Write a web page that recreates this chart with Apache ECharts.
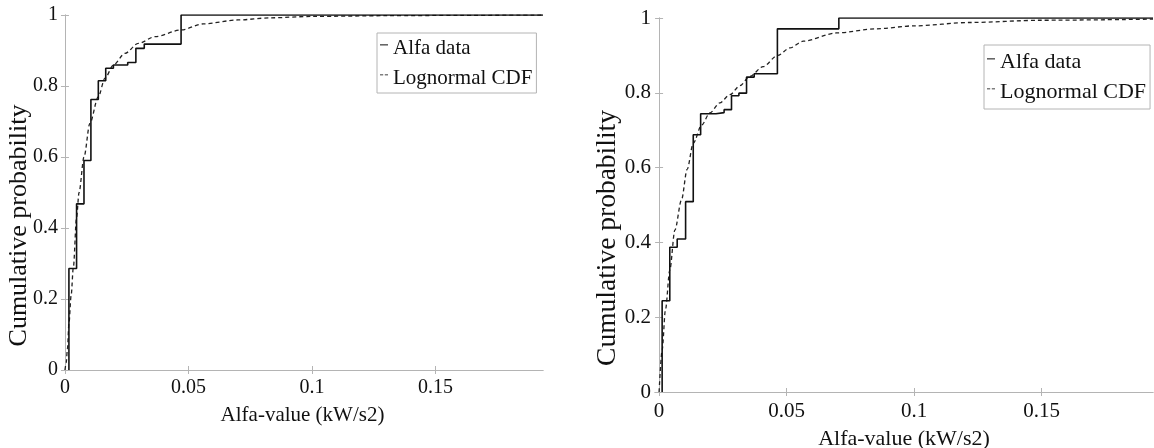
<!DOCTYPE html>
<html>
<head>
<meta charset="utf-8">
<script src="https://cdn.jsdelivr.net/npm/echarts@6/dist/echarts.min.js"></script>
<style>
html,body{margin:0;padding:0;background:#fff;}
#chart{width:1154px;height:448px;}
</style>
</head>
<body>
<div id="chart"></div>
<script>
// ---- data ----
const xTicks = [0, 0.05, 0.1, 0.15];
const yTicks = [0, 0.2, 0.4, 0.6, 0.8, 1];

// Left panel: empirical CDF jumps
const leftJumpX = [0.0016, 0.0047, 0.0077, 0.0105, 0.0135, 0.0165, 0.0196, 0.0254, 0.0287, 0.0321, 0.0470];
const leftJumpP = [0.286, 0.468, 0.590, 0.762, 0.815, 0.850, 0.859, 0.866, 0.906, 0.918, 1.0];
// Left panel: fitted lognormal CDF (read points)
const leftCdfX = [0, 0.0005, 0.001, 0.0016, 0.0025, 0.0034, 0.0047, 0.0057, 0.0077, 0.0101, 0.0135, 0.0162, 0.0196, 0.0243, 0.0297, 0.0365, 0.047, 0.056, 0.07, 0.083, 0.1, 0.13, 0.16, 0.1935];
const leftCdfP = [0, 0.02, 0.06, 0.13, 0.21, 0.29, 0.43, 0.50, 0.60, 0.695, 0.77, 0.822, 0.859, 0.892, 0.92, 0.939, 0.958, 0.975, 0.986, 0.992, 0.996, 0.998, 0.999, 1.0];

// Right panel: empirical CDF jumps
const rightJumpX = [0.0012, 0.0042, 0.0071, 0.0104, 0.0134, 0.0163, 0.0223, 0.0255, 0.0284, 0.0313, 0.0343, 0.0373, 0.0464, 0.0705];
const rightJumpP = [0.244, 0.387, 0.409, 0.509, 0.688, 0.744, 0.747, 0.755, 0.792, 0.799, 0.842, 0.851, 0.971, 1.0];
// Right panel: fitted lognormal CDF (read points)
const rightCdfX = [0, 0.0012, 0.0025, 0.0042, 0.0062, 0.0088, 0.011, 0.0134, 0.0167, 0.0199, 0.0238, 0.0278, 0.0317, 0.0356, 0.0408, 0.0465, 0.0513, 0.0565, 0.0696, 0.085, 0.1, 0.122, 0.15, 0.1937];
const rightCdfP = [0, 0.112, 0.22, 0.326, 0.433, 0.514, 0.595, 0.665, 0.714, 0.746, 0.773, 0.795, 0.819, 0.844, 0.87, 0.9, 0.92, 0.938, 0.96, 0.971, 0.979, 0.988, 0.994, 0.997];

const leftXRange = [-0.0012, 0.1935];
const rightXRange = [-0.0016, 0.1937];

const seriesNames = ['Alfa data', 'Lognormal CDF'];
const xName = 'Alfa-value (kW/s2)';
const yName = 'Cumulative probability';

// ---- helpers ----
function stepData(xs, ps, xmax) {
  const d = [[xs[0], 0]];
  for (let i = 0; i < xs.length; i++) d.push([xs[i], ps[i]]);
  d.push([xmax, ps[ps.length - 1]]);
  return d;
}
function pairs(xs, ys) { return xs.map((x, i) => [x, ys[i]]); }

const FONT = 'Liberation Serif';
const AXIS_COLOR = '#b4b4b4';

function xAxes(gridIndex, range, fs, labelMargin, nameGap) {
  return [
    {
      type: 'value', gridIndex: gridIndex, min: range[0], max: range[1], position: 'bottom',
      name: xName, nameLocation: 'middle', nameGap: nameGap, nameMoveOverlap: false,
      nameTextStyle: { fontFamily: FONT, fontSize: fs, color: '#111' },
      axisLine: { show: true, lineStyle: { color: AXIS_COLOR, width: 1 } },
      axisTick: { show: true, inside: true, length: 4, customValues: xTicks, lineStyle: { color: AXIS_COLOR } },
      axisLabel: { show: true, customValues: xTicks, margin: labelMargin, fontFamily: FONT, fontSize: fs - 1, color: '#111',
        formatter: v => String(v) },
      splitLine: { show: false }
    },
    {
      type: 'value', gridIndex: gridIndex, min: range[0], max: range[1], position: 'top',
      axisLine: { show: true, lineStyle: { color: AXIS_COLOR, width: 1 } },
      axisTick: { show: true, inside: true, length: 4, customValues: xTicks, lineStyle: { color: AXIS_COLOR } },
      axisLabel: { show: false },
      splitLine: { show: false }
    }
  ];
}
function yAxes(gridIndex, fs, nameFs, gap, shift) {
  return [
    {
      type: 'value', gridIndex: gridIndex, min: 0, max: 1, interval: 0.2, position: 'left',
      name: yName, nameLocation: 'middle', nameGap: gap, nameRotate: 90, nameMoveOverlap: false,
      nameTextStyle: { fontFamily: FONT, fontSize: nameFs, color: '#111', padding: [0, shift, 0, 0] },
      axisLine: { show: true, lineStyle: { color: AXIS_COLOR, width: 1 } },
      axisTick: { show: true, inside: true, length: 4, lineStyle: { color: AXIS_COLOR } },
      axisLabel: { show: true, margin: 4, fontFamily: FONT, fontSize: fs - 1, color: '#111' },
      splitLine: { show: false }
    },
    {
      type: 'value', gridIndex: gridIndex, min: 0, max: 1, interval: 0.2, position: 'right',
      axisLine: { show: true, lineStyle: { color: AXIS_COLOR, width: 1 } },
      axisTick: { show: true, inside: true, length: 4, lineStyle: { color: AXIS_COLOR } },
      axisLabel: { show: false },
      splitLine: { show: false }
    }
  ];
}

// short line icons sitting near the top of the item (like the original legend)
const solidIcon = 'path://M0,0h10v1.2h-10z M0,9';
const dashIcon = 'path://M0,0h4v1.2h-4z M6,0h4v1.2h-4z M0,9';

function legend(left, top, fs, pad) {
  return {
    left: left, top: top, orient: 'vertical',
    borderColor: AXIS_COLOR, borderWidth: 1, backgroundColor: '#fff',
    padding: pad, itemGap: 6, itemWidth: 8, itemHeight: 9, itemStyle: { borderWidth: 0 },
    itemTextGap: 1, selectedMode: false,
    textStyle: { fontFamily: FONT, fontSize: fs, color: '#111', lineHeight: 24 },
    data: [
      { name: seriesNames[0], icon: solidIcon, itemStyle: { color: '#000' } },
      { name: seriesNames[1], icon: dashIcon, itemStyle: { color: '#000' } }
    ]
  };
}

const option = {
  animation: false,
  backgroundColor: '#fff',
  grid: [
    { left: 62, top: 15, width: 481, height: 355, outerBoundsMode: 'none', containLabel: false },
    { left: 655, top: 18, width: 498, height: 374, outerBoundsMode: 'none', containLabel: false }
  ],
  legend: [
    legend(377, 33, 21, [3, 4, 3, 3]),
    legend(984, 45, 22, [5, 4, 5, 3])
  ],
  xAxis: [].concat(xAxes(0, leftXRange, 21, 8, 35), xAxes(1, rightXRange, 22, 9, 36)),
  yAxis: [].concat(yAxes(0, 21, 26, 30, 66), yAxes(1, 22, 27.5, 33, 66)),
  series: [
    { name: seriesNames[0], type: 'line', xAxisIndex: 0, yAxisIndex: 0, step: 'end', showSymbol: false,
      data: stepData(leftJumpX, leftJumpP, leftXRange[1]), lineStyle: { color: '#111', width: 1.6 }, itemStyle: { color: '#000' }, z: 3 },
    { name: seriesNames[1], type: 'line', xAxisIndex: 0, yAxisIndex: 0, smooth: 0.3, smoothMonotone: 'x', showSymbol: false,
      data: pairs(leftCdfX, leftCdfP), lineStyle: { color: '#222', width: 1.3, type: [4, 3] }, itemStyle: { color: '#000' }, z: 2 },
    { name: seriesNames[0], type: 'line', xAxisIndex: 2, yAxisIndex: 2, step: 'end', showSymbol: false,
      data: stepData(rightJumpX, rightJumpP, rightXRange[1]), lineStyle: { color: '#111', width: 1.6 }, itemStyle: { color: '#000' }, z: 3 },
    { name: seriesNames[1], type: 'line', xAxisIndex: 2, yAxisIndex: 2, smooth: 0.3, smoothMonotone: 'x', showSymbol: false,
      data: pairs(rightCdfX, rightCdfP), lineStyle: { color: '#222', width: 1.3, type: [4, 3] }, itemStyle: { color: '#000' }, z: 2 }
  ]
};

const chart = echarts.init(document.getElementById('chart'), null, { renderer: 'canvas' });
chart.setOption(option);
</script>
</body>
</html>
